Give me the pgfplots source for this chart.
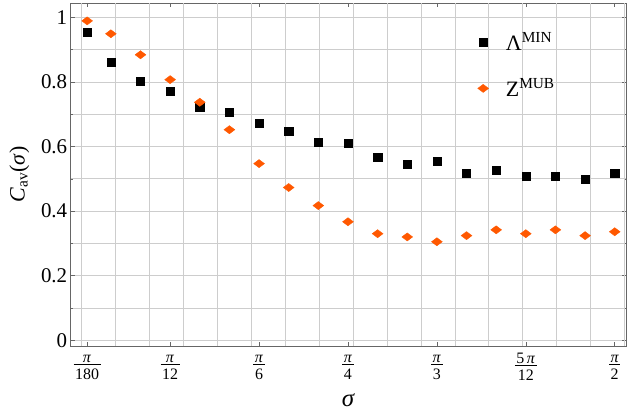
\documentclass[border=0pt]{standalone}
\usepackage{fontspec}
\setmainfont{Liberation Serif}
\usepackage{pgfplots}
\usepackage{pgfplotstable}
\pgfplotsset{compat=1.18}

\definecolor{zorange}{RGB}{255,88,0}
\definecolor{gridgray}{RGB}{205,205,205}

% sigma in rad, Lambda^MIN, Z^MUB
\pgfplotstableread{
x        lam    zmub
0.01745  0.954  0.989
0.08727  0.862  0.949
0.17453  0.803  0.884
0.26180  0.772  0.807
0.34907  0.721  0.737
0.43633  0.706  0.652
0.52360  0.673  0.547
0.61087  0.648  0.473
0.69813  0.614  0.417
0.78540  0.610  0.367
0.87266  0.567  0.330
0.95993  0.546  0.320
1.04720  0.555  0.305
1.13446  0.518  0.324
1.22173  0.527  0.342
1.30900  0.509  0.330
1.39626  0.509  0.342
1.48353  0.499  0.324
1.57080  0.518  0.336
}\cavdata

% stacked fraction for the tick labels
\newcommand\pifrac[2]{{\setlength\arrayrulewidth{0.7bp}\renewcommand\arraystretch{0}%
  \begin{tabular}{@{\hspace{1.5bp}}c@{\hspace{1.5bp}}}%
  \rule[-1.5bp]{0pt}{11bp}#1\\\hline\rule[-2bp]{0pt}{17bp}#2\end{tabular}}}

\begin{document}
\begin{tikzpicture}
\path[use as bounding box] (-70.7bp,-66bp) rectangle (571.3bp,346bp);
\begin{axis}[
  at={(0,0)}, anchor=south west,
  scale only axis, width=555.3bp, height=342.7bp,
  xmin=-0.031, xmax=1.604, ymin=-0.0177, ymax=1.0434,
  axis line style={draw=black!60},
  xtick={0.01745,0.2618,0.5236,0.7854,1.0472,1.309,1.5708},
  xticklabels={\pifrac{\textit{π}}{180},\pifrac{\textit{π}}{12},\pifrac{\textit{π}}{6},
    \pifrac{\textit{π}}{4},\pifrac{\textit{π}}{3},\pifrac{5\,\textit{π}}{12},\pifrac{\textit{π}}{2}},
  xticklabel style={font=\fontsize{16}{18}\selectfont, inner sep=0pt, yshift=-7bp},
  extra x ticks={0,0.1,0.2,0.3,0.4,0.5,0.6,0.7,0.8,0.9,1.0,1.1,1.2,1.3,1.4,1.5,1.6},
  extra x tick labels={},
  extra x tick style={grid=major, major tick length=0pt},
  ytick={0,0.2,0.4,0.6,0.8,1},
  yticklabels={0,0.2,0.4,0.6,0.8,1},
  minor ytick={0.1,0.3,0.5,0.7,0.9},
  ymajorgrids, yminorgrids,
  yticklabel style={font=\fontsize{21}{24}\selectfont},
  major grid style={draw=gridgray, line width=0.6pt},
  minor grid style={draw=gridgray, line width=0.6pt},
  tick style={draw=black!60, line width=0.5pt},
  major tick length=4bp, minor tick length=2.5bp,
  tick align=inside,
  xlabel={\textit{σ}},
  xlabel style={font=\fontsize{25}{28}\selectfont, yshift=-7bp},
  ylabel={\textit{C}\textsubscript{av}(\textit{σ})},
  ylabel style={font=\fontsize{22}{26}\selectfont, yshift=5bp},
  legend cell align=left,
  legend style={at={(rel axis cs:0.743,0.926)}, anchor=north west,
    draw=none, fill=none, font=\fontsize{22}{26}\selectfont},
  legend style={row sep=23bp},
  legend image code/.code={%
    \path (0cm,0cm) (0.6cm,0cm);
    \draw[overlay,#1] plot coordinates {(-3.5bp,0bp)};},
]
\addplot[only marks, mark=square*, mark size=4.1bp, color=black]
  table[x=x, y=lam] {\cavdata};
\addlegendentry{Λ\textsuperscript{MIN}}
\addplot[only marks, mark=diamond*, mark size=5.4bp, color=zorange,
  mark options={rotate=90}]
  table[x=x, y=zmub] {\cavdata};
\addlegendentry{Z\textsuperscript{MUB}}
\end{axis}
\end{tikzpicture}
\end{document}
